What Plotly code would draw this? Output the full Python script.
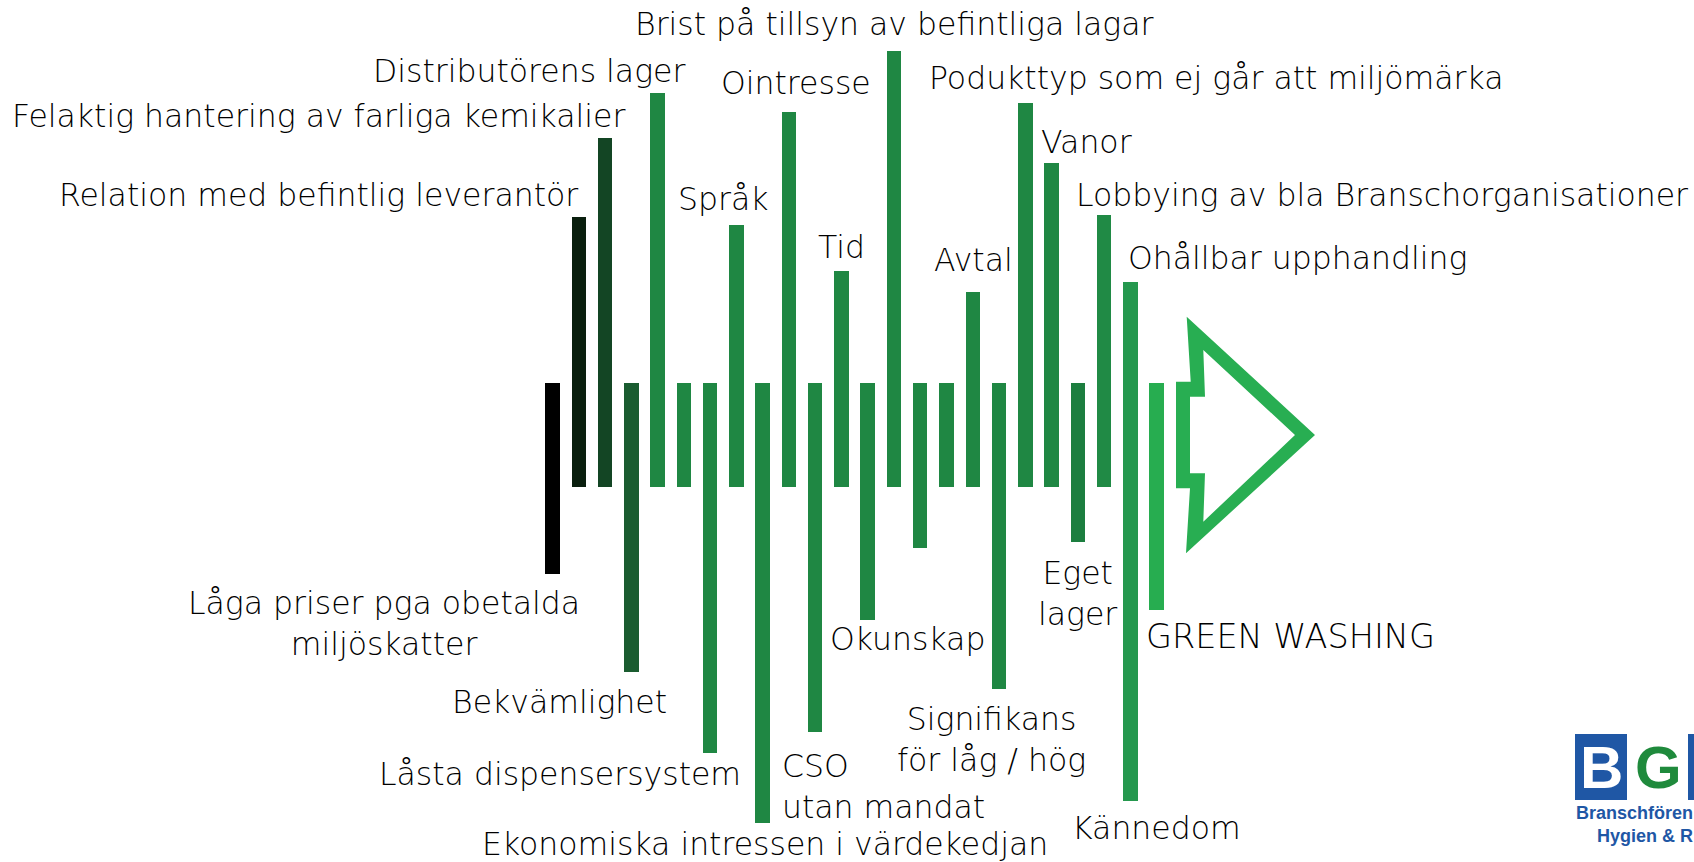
import plotly.graph_objects as go

# ---------------- data (bar order left -> right) ----------------
bar_index = list(range(24))
# extent above the centre line (px-like units)
bar_up = [52.3, 217.7, 296.7, 52.3, 341.7, 52.3, 52.3, 210.0, 52.3, 323.3, 52.3, 164.0,
          52.3, 384.3, 52.3, 52.3, 143.3, 52.3, 331.7, 272.3, 52.3, 220.0, 153.3, 52.3]
# extent below the centre line
bar_down = [139.0, 52.3, 52.3, 236.7, 52.3, 52.3, 318.3, 52.3, 387.7, 52.3, 297.3, 52.3,
            185.0, 52.3, 112.7, 52.3, 52.3, 254.0, 52.3, 52.3, 106.7, 52.3, 365.7, 175.0]
bar_colors = ["#000000", "#0a1f0e", "#134524", "#1a5c30"] + ["#1f8743"] * 16 + \
             ["#1c7e3f", "#208a45", "#25984e", "#27ad50"]

labels_top = ["Brist på tillsyn av befintliga lagar", "Distributörens lager",
              "Felaktig hantering av farliga kemikalier", "Relation med befintlig leverantör",
              "Språk", "Ointresse", "Tid", "Avtal", "Podukttyp som ej går att miljömärka",
              "Vanor", "Lobbying av bla Branschorganisationer", "Ohållbar upphandling"]
labels_bottom = ["Låga priser pga obetalda<br>miljöskatter", "Bekvämlighet",
                 "Låsta dispensersystem", "Ekonomiska intressen i värdekedjan",
                 "CSO<br>utan mandat", "Okunskap", "Signifikans<br>för låg / hög",
                 "Eget<br>lager", "GREEN WASHING", "Kännedom"]

# ---------------- layout helpers ----------------
W, H = 1694, 862
X0, STEP = 552.6, 26.26      # pixel position of bar 0 and spacing
YC = 435.0                   # pixel row of centre line

def px(x):
    return (x - X0) / STEP

def py(y):
    return YC - y

fig = go.Figure()
fig.add_trace(go.Bar(
    x=bar_index,
    y=[u + d for u, d in zip(bar_up, bar_down)],
    base=[-d for d in bar_down],
    marker=dict(color=bar_colors, line=dict(width=0)),
    width=0.552,
    hoverinfo="skip",
))

# arrow (outline drawn as green polygon with white inner polygon)
outer = [(1186.7, 316.7), (1315, 435), (1186, 553.3), (1190, 488.3), (1176, 488.3),
         (1176, 381.7), (1190.7, 381.7)]
inner = [(1203.3, 350), (1295, 435), (1203.3, 521.7), (1205, 473.3), (1190, 473.3),
         (1190, 396.7), (1205, 396.7)]

def path(pts):
    return "M " + " L ".join(f"{px(a):.4f},{py(b):.2f}" for a, b in pts) + " Z"

shapes = [
    dict(type="path", path=path(outer), xref="x", yref="y", fillcolor="#28ae52",
         line=dict(width=0), layer="above"),
    dict(type="path", path=path(inner), xref="x", yref="y", fillcolor="#ffffff",
         line=dict(width=0), layer="above"),
]

# logo
def xp(x):
    return x / W

def yp(y):
    return 1 - y / H

shapes += [
    dict(type="rect", xref="paper", yref="paper", x0=xp(1575), x1=xp(1627), y0=yp(800),
         y1=yp(734), fillcolor="#1f57a5", line=dict(width=0), layer="below"),
    dict(type="rect", xref="paper", yref="paper", x0=xp(1688), x1=xp(1740), y0=yp(800),
         y1=yp(734), fillcolor="#1f57a5", line=dict(width=0), layer="below"),
]

FONT = "DejaVu Sans"
FS = 31.5
TXT = "#000000"

label_pos = {
    "Brist på tillsyn av befintliga lagar": (894, 23.8, "center"),
    "Distributörens lager": (687, 71, "right"),
    "Felaktig hantering av farliga kemikalier": (627, 115.6, "right"),
    "Relation med befintlig leverantör": (580, 194.5, "right"),
    "Språk": (723, 199, "center"),
    "Ointresse": (796, 83, "center"),
    "Tid": (841.5, 247, "center"),
    "Avtal": (973, 260, "center"),
    "Podukttyp som ej går att miljömärka": (927, 77.8, "left"),
    "Vanor": (1039, 141.5, "left"),
    "Lobbying av bla Branschorganisationer": (1074, 194.5, "left"),
    "Ohållbar upphandling": (1126, 258, "left"),
    "Låga priser pga obetalda<br>miljöskatter": (384, 623, "center"),
    "Bekvämlighet": (559.5, 702, "center"),
    "Låsta dispensersystem": (559.7, 773.6, "center"),
    "Ekonomiska intressen i värdekedjan": (764.5, 843.8, "center"),
    "CSO<br>utan mandat": (780, 786, "left"),
    "Okunskap": (907.5, 638.5, "center"),
    "Signifikans<br>för låg / hög": (992, 739, "center"),
    "Eget<br>lager": (1077.5, 593.7, "center"),
    "GREEN WASHING": (1144, 636, "left"),
    "Kännedom": (1156, 827.6, "center"),
}

annotations = []
for t in labels_top + labels_bottom:
    x, y, anc = label_pos[t]
    size = 33.5 if t == "GREEN WASHING" else FS
    annotations.append(dict(
        text=t, x=xp(x), y=yp(y), xref="paper", yref="paper", xanchor=anc,
        yanchor="middle", showarrow=False, align=anc,
        font=dict(family=FONT, size=size, color=TXT, weight=200)))

annotations += [
    dict(text="<b>B</b>", x=xp(1601), y=yp(767), xref="paper", yref="paper",
         xanchor="center", yanchor="middle", showarrow=False,
         font=dict(family="Liberation Sans", size=60, color="white")),
    dict(text="<b>G</b>", x=xp(1658.5), y=yp(767), xref="paper", yref="paper",
         xanchor="center", yanchor="middle", showarrow=False,
         font=dict(family="Liberation Sans", size=60, color="#1f8a3c")),
    dict(text="<b>Branschfören</b>", x=xp(1574), y=yp(812.5), xref="paper",
         yref="paper", xanchor="left", yanchor="middle", showarrow=False,
         font=dict(family="Liberation Sans", size=18, color="#1f57a5")),
    dict(text="<b>Hygien & R</b>", x=xp(1595), y=yp(836), xref="paper",
         yref="paper", xanchor="left", yanchor="middle", showarrow=False,
         font=dict(family="Liberation Sans", size=18, color="#1f57a5")),
]

fig.update_layout(
    width=W, height=H, margin=dict(l=0, r=0, t=0, b=0),
    paper_bgcolor="white", plot_bgcolor="white", showlegend=False,
    xaxis=dict(range=[px(0), px(W)], visible=False, fixedrange=True),
    yaxis=dict(range=[py(H), py(0)], visible=False, fixedrange=True),
    shapes=shapes, annotations=annotations, bargap=0,
)

fig.write_html("out.html", config={"displayModeBar": False},
               post_script="document.body.style.margin='0';")
